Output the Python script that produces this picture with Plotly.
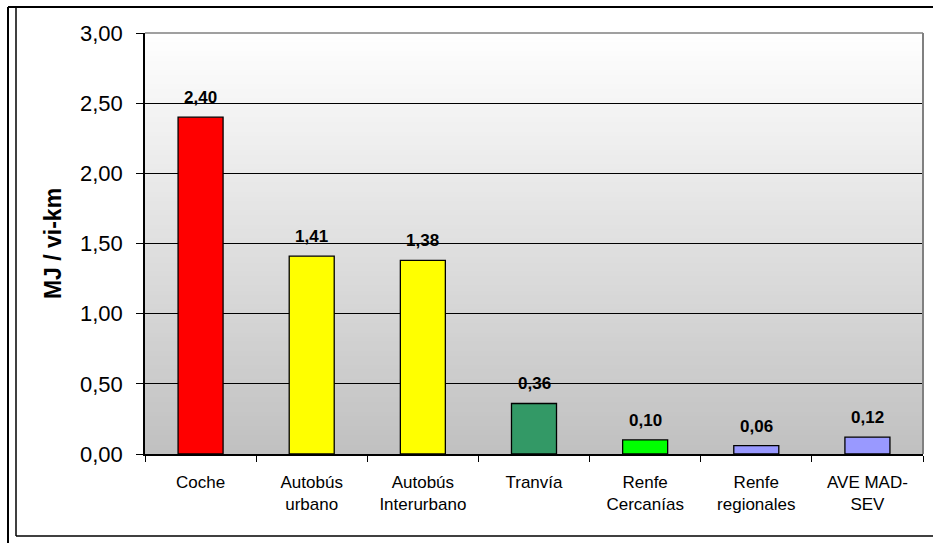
import plotly.graph_objects as go

categories = ["Coche", "Autobús<br>urbano", "Autobús<br>Interurbano", "Tranvía",
              "Renfe<br>Cercanías", "Renfe<br>regionales", "AVE MAD-<br>SEV"]
values = [2.40, 1.41, 1.38, 0.36, 0.10, 0.06, 0.12]
bar_colors = ["#FF0000", "#FFFF00", "#FFFF00", "#339966", "#00FF00", "#9999FF", "#9999FF"]
y_ticks = [0, 0.5, 1.0, 1.5, 2.0, 2.5, 3.0]
y_title = "MJ / vi-km"

W, H = 933, 543
L, R, T, B = 145, 923, 33, 454  # plot area in pixels

FONT = "Liberation Sans, Arial, sans-serif"

fig = go.Figure()
fig.add_trace(go.Bar(
    x=categories, y=values,
    marker=dict(color=bar_colors, line=dict(color="black", width=1.3)),
    hoverinfo="skip",
))

shapes = []
# vertical gradient background
n = 90
for i in range(n):
    f0 = i / n
    f1 = (i + 1) / n
    fm = (f0 + f1) / 2
    g = round(192 + (255 - 192) * fm)
    shapes.append(dict(type="rect", xref="paper", yref="paper", x0=0, x1=1, y0=f0, y1=f1 + 0.002,
                       fillcolor=f"rgb({g},{g},{g})", line=dict(width=0), layer="below"))

def px_x(p):
    return (p - L) / (R - L)

def px_y(p):
    return (B - p) / (B - T)

# plot area top / right border (gray)
shapes.append(dict(type="line", xref="paper", yref="paper", x0=0, x1=1, y0=1, y1=1,
                   line=dict(color="#808080", width=1.5)))
shapes.append(dict(type="line", xref="paper", yref="paper", x0=1, x1=1, y0=0, y1=1,
                   line=dict(color="#808080", width=2)))
# outer frames
shapes.append(dict(type="line", xref="paper", yref="paper", x0=px_x(8), x1=px_x(940), y0=px_y(7), y1=px_y(7),
                   line=dict(color="black", width=2)))
shapes.append(dict(type="line", xref="paper", yref="paper", x0=px_x(8), x1=px_x(8), y0=px_y(7), y1=px_y(550),
                   line=dict(color="black", width=2)))
shapes.append(dict(type="line", xref="paper", yref="paper", x0=px_x(16), x1=px_x(16), y0=px_y(7), y1=px_y(536),
                   line=dict(color="black", width=1.5)))
shapes.append(dict(type="line", xref="paper", yref="paper", x0=px_x(16), x1=px_x(940), y0=px_y(536), y1=px_y(536),
                   line=dict(color="black", width=1.5)))

annotations = []
for c, v in zip(categories, values):
    annotations.append(dict(x=c, y=v, xref="x", yref="y", text=f"{v:.2f}".replace(".", ","),
                            showarrow=False, yanchor="bottom", yshift=8,
                            font=dict(family=FONT, size=17, color="black", weight="bold")))

fig.update_layout(
    width=W, height=H,
    margin=dict(l=L, r=W - R, t=T, b=H - B, pad=0),
    paper_bgcolor="white",
    plot_bgcolor="rgba(0,0,0,0)",
    separators=",.",
    bargap=0.595,
    showlegend=False,
    shapes=shapes,
    annotations=annotations,
    font=dict(family=FONT, color="black"),
)
fig.update_yaxes(
    range=[0, 3], tickvals=y_ticks, tickformat=".2f",
    showgrid=True, gridcolor="#000000", gridwidth=1,
    showline=True, linecolor="black", linewidth=1.5,
    ticks="outside", ticklen=7, tickcolor="black", tickwidth=1.3,
    tickfont=dict(family=FONT, size=22, color="black"),
    ticklabelstandoff=9,
    title=dict(text=y_title, font=dict(family=FONT, size=23, color="black", weight="bold"), standoff=12),
    zeroline=False,
)
fig.update_xaxes(
    showline=True, linecolor="black", linewidth=1.5,
    ticks="outside", ticklen=6, tickcolor="black", tickwidth=1.3, tickson="boundaries",
    tickfont=dict(family=FONT, size=17, color="black"),
    ticklabelstandoff=12,
    showgrid=False,
)

fig.write_html("out.html")
